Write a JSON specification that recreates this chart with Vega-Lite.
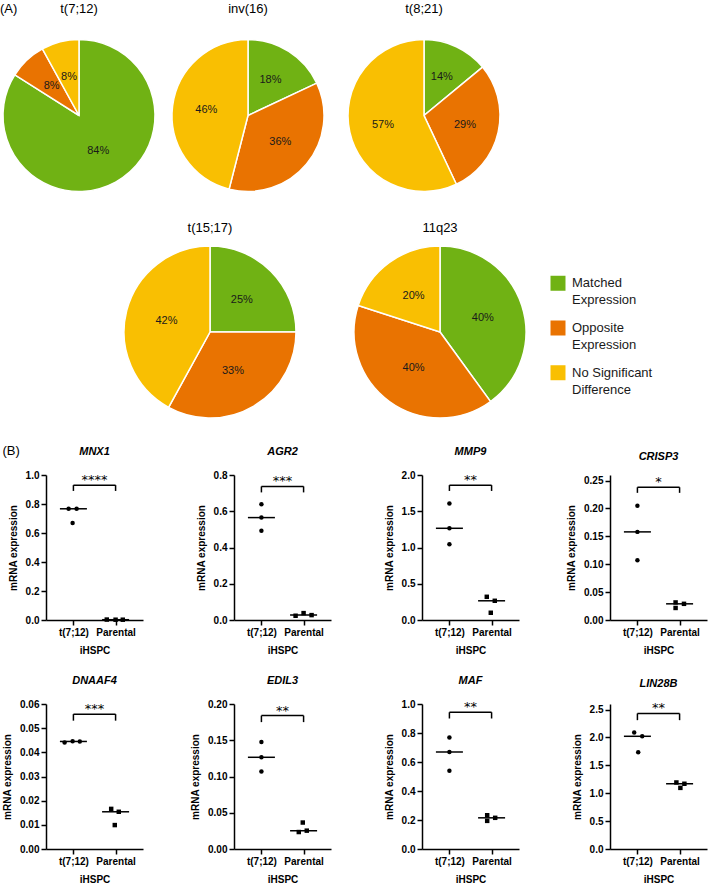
{
  "$schema": "https://vega.github.io/schema/vega-lite/v6.json",
  "background": "white",
  "padding": {"left": 0, "top": 3, "right": 3, "bottom": 3},
  "datasets": {
    "pies": [
      {"abn": "t(7;12)", "category": "Matched Expression", "k": 1, "pct": 0.84},
      {"abn": "t(7;12)", "category": "Opposite Expression", "k": 2, "pct": 0.08},
      {"abn": "t(7;12)", "category": "No Significant Difference", "k": 3, "pct": 0.08},
      {"abn": "inv(16)", "category": "Matched Expression", "k": 1, "pct": 0.18},
      {"abn": "inv(16)", "category": "Opposite Expression", "k": 2, "pct": 0.36},
      {"abn": "inv(16)", "category": "No Significant Difference", "k": 3, "pct": 0.46},
      {"abn": "t(8;21)", "category": "Matched Expression", "k": 1, "pct": 0.14},
      {"abn": "t(8;21)", "category": "Opposite Expression", "k": 2, "pct": 0.29},
      {"abn": "t(8;21)", "category": "No Significant Difference", "k": 3, "pct": 0.57},
      {"abn": "t(15;17)", "category": "Matched Expression", "k": 1, "pct": 0.25},
      {"abn": "t(15;17)", "category": "Opposite Expression", "k": 2, "pct": 0.33},
      {"abn": "t(15;17)", "category": "No Significant Difference", "k": 3, "pct": 0.42},
      {"abn": "11q23", "category": "Matched Expression", "k": 1, "pct": 0.40},
      {"abn": "11q23", "category": "Opposite Expression", "k": 2, "pct": 0.40},
      {"abn": "11q23", "category": "No Significant Difference", "k": 3, "pct": 0.20}
    ],
    "keys": [
      {"category": "Matched Expression", "label": "Matched\nExpression"},
      {"category": "Opposite Expression", "label": "Opposite\nExpression"},
      {"category": "No Significant Difference", "label": "No Significant\nDifference"}
    ],
    "expr": [
      {"gene": "MNX1", "group": "t(7;12)", "value": 0.767, "jit": -0.6},
      {"gene": "MNX1", "group": "t(7;12)", "value": 0.767, "jit": 0.4},
      {"gene": "MNX1", "group": "t(7;12)", "value": 0.669, "jit": -0.1},
      {"gene": "MNX1", "group": "Parental", "value": 0.003, "jit": -1.1},
      {"gene": "MNX1", "group": "Parental", "value": 0.002, "jit": 0},
      {"gene": "MNX1", "group": "Parental", "value": 0.002, "jit": 0.9},
      {"gene": "AGR2", "group": "t(7;12)", "value": 0.639, "jit": 0},
      {"gene": "AGR2", "group": "t(7;12)", "value": 0.565, "jit": 0},
      {"gene": "AGR2", "group": "t(7;12)", "value": 0.493, "jit": 0},
      {"gene": "AGR2", "group": "Parental", "value": 0.0235, "jit": -1.0},
      {"gene": "AGR2", "group": "Parental", "value": 0.038, "jit": 0},
      {"gene": "AGR2", "group": "Parental", "value": 0.027, "jit": 1.0},
      {"gene": "MMP9", "group": "t(7;12)", "value": 1.607, "jit": 0},
      {"gene": "MMP9", "group": "t(7;12)", "value": 1.265, "jit": 0},
      {"gene": "MMP9", "group": "t(7;12)", "value": 1.046, "jit": 0},
      {"gene": "MMP9", "group": "Parental", "value": 0.32, "jit": -0.6},
      {"gene": "MMP9", "group": "Parental", "value": 0.265, "jit": 0.4},
      {"gene": "MMP9", "group": "Parental", "value": 0.10, "jit": -0.1},
      {"gene": "CRISP3", "group": "t(7;12)", "value": 0.205, "jit": 0},
      {"gene": "CRISP3", "group": "t(7;12)", "value": 0.158, "jit": 0},
      {"gene": "CRISP3", "group": "t(7;12)", "value": 0.107, "jit": 0},
      {"gene": "CRISP3", "group": "Parental", "value": 0.0315, "jit": -0.5},
      {"gene": "CRISP3", "group": "Parental", "value": 0.0216, "jit": -0.5},
      {"gene": "CRISP3", "group": "Parental", "value": 0.029, "jit": 0.55},
      {"gene": "DNAAF4", "group": "t(7;12)", "value": 0.0441, "jit": -1.1},
      {"gene": "DNAAF4", "group": "t(7;12)", "value": 0.0446, "jit": -0.1},
      {"gene": "DNAAF4", "group": "t(7;12)", "value": 0.0445, "jit": 0.8},
      {"gene": "DNAAF4", "group": "Parental", "value": 0.0166, "jit": -0.55},
      {"gene": "DNAAF4", "group": "Parental", "value": 0.0154, "jit": 0.4},
      {"gene": "DNAAF4", "group": "Parental", "value": 0.0099, "jit": -0.1},
      {"gene": "EDIL3", "group": "t(7;12)", "value": 0.1475, "jit": 0},
      {"gene": "EDIL3", "group": "t(7;12)", "value": 0.1265, "jit": 0},
      {"gene": "EDIL3", "group": "t(7;12)", "value": 0.1068, "jit": 0},
      {"gene": "EDIL3", "group": "Parental", "value": 0.0365, "jit": -0.1},
      {"gene": "EDIL3", "group": "Parental", "value": 0.0234, "jit": -0.6},
      {"gene": "EDIL3", "group": "Parental", "value": 0.0253, "jit": 0.4},
      {"gene": "MAF", "group": "t(7;12)", "value": 0.769, "jit": 0},
      {"gene": "MAF", "group": "t(7;12)", "value": 0.669, "jit": 0},
      {"gene": "MAF", "group": "t(7;12)", "value": 0.539, "jit": 0},
      {"gene": "MAF", "group": "Parental", "value": 0.233, "jit": -0.55},
      {"gene": "MAF", "group": "Parental", "value": 0.194, "jit": -0.55},
      {"gene": "MAF", "group": "Parental", "value": 0.215, "jit": 0.45},
      {"gene": "LIN28B", "group": "t(7;12)", "value": 2.089, "jit": -0.4},
      {"gene": "LIN28B", "group": "t(7;12)", "value": 2.021, "jit": 0.6},
      {"gene": "LIN28B", "group": "t(7;12)", "value": 1.735, "jit": 0.1},
      {"gene": "LIN28B", "group": "Parental", "value": 1.193, "jit": -0.4},
      {"gene": "LIN28B", "group": "Parental", "value": 1.170, "jit": 0.6},
      {"gene": "LIN28B", "group": "Parental", "value": 1.096, "jit": 0.1}
    ],
    "sig": [
      {"gene": "MNX1", "stars": "****", "top": 0.93, "foot": 0.89},
      {"gene": "AGR2", "stars": "***", "top": 0.737, "foot": 0.704},
      {"gene": "MMP9", "stars": "**", "top": 1.86, "foot": 1.78},
      {"gene": "CRISP3", "stars": "*", "top": 0.238, "foot": 0.228},
      {"gene": "DNAAF4", "stars": "***", "top": 0.0558, "foot": 0.0531},
      {"gene": "EDIL3", "stars": "**", "top": 0.184, "foot": 0.175},
      {"gene": "MAF", "stars": "**", "top": 0.943, "foot": 0.90},
      {"gene": "LIN28B", "stars": "**", "top": 2.43, "foot": 2.31}
    ]
  },
  "vconcat": [
    {
      "title": {"text": "(A)", "anchor": "start", "fontSize": 13, "fontWeight": "normal", "offset": -13},
      "spacing": 15,
      "vconcat": [
        {
          "bounds": "flush",
          "spacing": 20,
          "hconcat": [
            {
              "title": {"text": "t(7;12)", "fontSize": 13, "fontWeight": "normal", "offset": 8},
              "width": 66, "height": 183,
              "data": {"name": "pies"},
              "transform": [{"filter": "datum.abn === 't(7;12)'"}],
              "encoding": {
                "theta": {"field": "pct", "type": "quantitative", "stack": true},
                "order": {"field": "k", "type": "quantitative"},
                "color": {"field": "category", "type": "nominal", "legend": null,
                  "scale": {"domain": ["Matched Expression", "Opposite Expression", "No Significant Difference"], "range": ["#70b214", "#e97301", "#f9bf02"]}}
              },
              "layer": [
                {"mark": {"type": "arc", "outerRadius": 76, "stroke": "white", "strokeWidth": 1.5}},
                {"mark": {"type": "text", "radius": 40, "fontSize": 11},
                 "encoding": {"text": {"field": "pct", "format": ".0%"}, "color": {"value": "#1a1a1a"}}}
              ]
            },
            {
              "title": {"text": "inv(16)", "fontSize": 13, "fontWeight": "normal", "offset": 8},
              "width": 232, "height": 183,
              "data": {"name": "pies"},
              "transform": [{"filter": "datum.abn === 'inv(16)'"}],
              "encoding": {
                "theta": {"field": "pct", "type": "quantitative", "stack": true},
                "order": {"field": "k", "type": "quantitative"},
                "color": {"field": "category", "type": "nominal", "legend": null,
                  "scale": {"domain": ["Matched Expression", "Opposite Expression", "No Significant Difference"], "range": ["#70b214", "#e97301", "#f9bf02"]}}
              },
              "layer": [
                {"mark": {"type": "arc", "outerRadius": 76, "stroke": "white", "strokeWidth": 1.5}},
                {"mark": {"type": "text", "radius": 42, "fontSize": 11},
                 "encoding": {"text": {"field": "pct", "format": ".0%"}, "color": {"value": "#1a1a1a"}}}
              ]
            },
            {
              "title": {"text": "t(8;21)", "fontSize": 13, "fontWeight": "normal", "offset": 8},
              "width": 80, "height": 183,
              "data": {"name": "pies"},
              "transform": [{"filter": "datum.abn === 't(8;21)'"}],
              "encoding": {
                "theta": {"field": "pct", "type": "quantitative", "stack": true},
                "order": {"field": "k", "type": "quantitative"},
                "color": {"field": "category", "type": "nominal", "legend": null,
                  "scale": {"domain": ["Matched Expression", "Opposite Expression", "No Significant Difference"], "range": ["#70b214", "#e97301", "#f9bf02"]}}
              },
              "layer": [
                {"mark": {"type": "arc", "outerRadius": 76, "stroke": "white", "strokeWidth": 1.5}},
                {"mark": {"type": "text", "radius": 42, "fontSize": 11},
                 "encoding": {"text": {"field": "pct", "format": ".0%"}, "color": {"value": "#1a1a1a"}}}
              ]
            }
          ]
        },
        {
          "bounds": "flush",
          "spacing": 10,
          "hconcat": [
            {
              "title": {"text": "t(15;17)", "fontSize": 13, "fontWeight": "normal", "offset": 8},
              "width": 328, "height": 178,
              "data": {"name": "pies"},
              "transform": [{"filter": "datum.abn === 't(15;17)'"}],
              "encoding": {
                "theta": {"field": "pct", "type": "quantitative", "stack": true},
                "order": {"field": "k", "type": "quantitative"},
                "color": {"field": "category", "type": "nominal", "legend": null,
                  "scale": {"domain": ["Matched Expression", "Opposite Expression", "No Significant Difference"], "range": ["#70b214", "#e97301", "#f9bf02"]}}
              },
              "layer": [
                {"mark": {"type": "arc", "outerRadius": 86, "stroke": "white", "strokeWidth": 1.5}},
                {"mark": {"type": "text", "radius": 45, "fontSize": 11},
                 "encoding": {"text": {"field": "pct", "format": ".0%"}, "color": {"value": "#1a1a1a"}}}
              ]
            },
            {
              "title": {"text": "11q23", "fontSize": 13, "fontWeight": "normal", "offset": 8},
              "width": 112, "height": 178,
              "data": {"name": "pies"},
              "transform": [{"filter": "datum.abn === '11q23'"}],
              "encoding": {
                "theta": {"field": "pct", "type": "quantitative", "stack": true},
                "order": {"field": "k", "type": "quantitative"},
                "color": {"field": "category", "type": "nominal", "legend": null,
                  "scale": {"domain": ["Matched Expression", "Opposite Expression", "No Significant Difference"], "range": ["#70b214", "#e97301", "#f9bf02"]}}
              },
              "layer": [
                {"mark": {"type": "arc", "outerRadius": 86, "stroke": "white", "strokeWidth": 1.5}},
                {"mark": {"type": "text", "radius": 45, "fontSize": 11},
                 "encoding": {"text": {"field": "pct", "format": ".0%"}, "color": {"value": "#1a1a1a"}}}
              ]
            },
            {
              "width": 104, "height": 170,
              "data": {"name": "keys"},
              "encoding": {
                "y": {"field": "category", "type": "nominal", "axis": null,
                  "scale": {"type": "point", "padding": 0.9, "domain": ["Matched Expression", "Opposite Expression", "No Significant Difference"]}}
              },
              "layer": [
                {"mark": {"type": "point", "shape": "square", "filled": true, "size": 225, "opacity": 1, "strokeWidth": 0},
                 "encoding": {"color": {"field": "category", "type": "nominal", "legend": null,
                   "scale": {"domain": ["Matched Expression", "Opposite Expression", "No Significant Difference"], "range": ["#70b214", "#e97301", "#f9bf02"]}}}},
                {"mark": {"type": "text", "align": "left", "baseline": "middle", "dx": 14, "fontSize": 13, "lineBreak": "\n", "lineHeight": 17, "color": "#1a1a1a"},
                 "encoding": {"text": {"field": "label"}}}
              ]
            }
          ]
        }
      ]
    },
    {
      "title": {"text": "(B)", "anchor": "start", "fontSize": 13, "fontWeight": "normal", "offset": -12},
      "spacing": 20,
      "vconcat": [
        {
          "bounds": "flush",
          "spacing": 91,
          "resolve": {"scale": {"x": "independent", "y": "independent"}},
          "hconcat": [
            {
              "title": {"text": "MNX1", "fontSize": 11, "fontWeight": "bold", "fontStyle": "italic", "offset": 13},
              "width": 97, "height": 145,
              "layer": [
                {"data": {"name": "expr"}, "transform": [{"filter": "datum.gene === 'MNX1'"}],
                 "mark": {"type": "point", "filled": true, "size": 20, "opacity": 1, "color": "black"},
                 "encoding": {
                   "x": {"field": "group", "type": "nominal", "sort": ["t(7;12)", "Parental"], "scale": {"type": "point", "padding": 0.65, "domain": ["t(7;12)", "Parental"]}, "axis": {"title": "iHSPC"}},
                   "xOffset": {"field": "jit", "type": "quantitative", "scale": {"domain": [-1, 1], "range": [-8, 8]}},
                   "y": {"field": "value", "type": "quantitative", "scale": {"domain": [0, 1]}, "axis": {"title": "mRNA expression", "tickCount": 20, "values": [0, 0.2, 0.4, 0.6, 0.8, 1], "format": ".1f"}},
                   "shape": {"field": "group", "type": "nominal", "legend": null, "scale": {"domain": ["t(7;12)", "Parental"], "range": ["circle", "square"]}}
                 }},
                {"data": {"name": "expr"}, "transform": [{"filter": "datum.gene === 'MNX1'"}],
                 "mark": {"type": "tick", "color": "black", "size": 27, "thickness": 1.5},
                 "encoding": {"x": {"field": "group", "type": "nominal"}, "y": {"field": "value", "aggregate": "median", "type": "quantitative"}}},
                {"data": {"name": "sig"}, "transform": [{"filter": "datum.gene === 'MNX1'"}],
                 "mark": {"type": "rule", "color": "black", "strokeWidth": 1.5},
                 "encoding": {"x": {"datum": "t(7;12)", "type": "nominal"}, "x2": {"datum": "Parental"}, "y": {"field": "top", "type": "quantitative"}}},
                {"data": {"name": "sig"}, "transform": [{"filter": "datum.gene === 'MNX1'"}],
                 "mark": {"type": "rule", "color": "black", "strokeWidth": 1.5},
                 "encoding": {"x": {"datum": "t(7;12)", "type": "nominal"}, "y": {"field": "top", "type": "quantitative"}, "y2": {"field": "foot"}}},
                {"data": {"name": "sig"}, "transform": [{"filter": "datum.gene === 'MNX1'"}],
                 "mark": {"type": "rule", "color": "black", "strokeWidth": 1.5},
                 "encoding": {"x": {"datum": "Parental", "type": "nominal"}, "y": {"field": "top", "type": "quantitative"}, "y2": {"field": "foot"}}},
                {"data": {"name": "sig"}, "transform": [{"filter": "datum.gene === 'MNX1'"}],
                 "mark": {"type": "text", "dx": 21, "dy": -1, "baseline": "alphabetic", "fontSize": 13, "font": "DejaVu Sans", "color": "black"},
                 "encoding": {"x": {"datum": "t(7;12)", "type": "nominal"}, "y": {"field": "top", "type": "quantitative"}, "text": {"field": "stars"}}}
              ]
            },
            {
              "title": {"text": "AGR2", "fontSize": 11, "fontWeight": "bold", "fontStyle": "italic", "offset": 13},
              "width": 97, "height": 145,
              "layer": [
                {"data": {"name": "expr"}, "transform": [{"filter": "datum.gene === 'AGR2'"}],
                 "mark": {"type": "point", "filled": true, "size": 20, "opacity": 1, "color": "black"},
                 "encoding": {
                   "x": {"field": "group", "type": "nominal", "sort": ["t(7;12)", "Parental"], "scale": {"type": "point", "padding": 0.65, "domain": ["t(7;12)", "Parental"]}, "axis": {"title": "iHSPC"}},
                   "xOffset": {"field": "jit", "type": "quantitative", "scale": {"domain": [-1, 1], "range": [-8, 8]}},
                   "y": {"field": "value", "type": "quantitative", "scale": {"domain": [0, 0.8]}, "axis": {"title": "mRNA expression", "tickCount": 20, "values": [0, 0.2, 0.4, 0.6, 0.8], "format": ".1f"}},
                   "shape": {"field": "group", "type": "nominal", "legend": null, "scale": {"domain": ["t(7;12)", "Parental"], "range": ["circle", "square"]}}
                 }},
                {"data": {"name": "expr"}, "transform": [{"filter": "datum.gene === 'AGR2'"}],
                 "mark": {"type": "tick", "color": "black", "size": 27, "thickness": 1.5},
                 "encoding": {"x": {"field": "group", "type": "nominal"}, "y": {"field": "value", "aggregate": "median", "type": "quantitative"}}},
                {"data": {"name": "sig"}, "transform": [{"filter": "datum.gene === 'AGR2'"}],
                 "mark": {"type": "rule", "color": "black", "strokeWidth": 1.5},
                 "encoding": {"x": {"datum": "t(7;12)", "type": "nominal"}, "x2": {"datum": "Parental"}, "y": {"field": "top", "type": "quantitative"}}},
                {"data": {"name": "sig"}, "transform": [{"filter": "datum.gene === 'AGR2'"}],
                 "mark": {"type": "rule", "color": "black", "strokeWidth": 1.5},
                 "encoding": {"x": {"datum": "t(7;12)", "type": "nominal"}, "y": {"field": "top", "type": "quantitative"}, "y2": {"field": "foot"}}},
                {"data": {"name": "sig"}, "transform": [{"filter": "datum.gene === 'AGR2'"}],
                 "mark": {"type": "rule", "color": "black", "strokeWidth": 1.5},
                 "encoding": {"x": {"datum": "Parental", "type": "nominal"}, "y": {"field": "top", "type": "quantitative"}, "y2": {"field": "foot"}}},
                {"data": {"name": "sig"}, "transform": [{"filter": "datum.gene === 'AGR2'"}],
                 "mark": {"type": "text", "dx": 21, "dy": -1, "baseline": "alphabetic", "fontSize": 13, "font": "DejaVu Sans", "color": "black"},
                 "encoding": {"x": {"datum": "t(7;12)", "type": "nominal"}, "y": {"field": "top", "type": "quantitative"}, "text": {"field": "stars"}}}
              ]
            },
            {
              "title": {"text": "MMP9", "fontSize": 11, "fontWeight": "bold", "fontStyle": "italic", "offset": 13},
              "width": 97, "height": 145,
              "layer": [
                {"data": {"name": "expr"}, "transform": [{"filter": "datum.gene === 'MMP9'"}],
                 "mark": {"type": "point", "filled": true, "size": 20, "opacity": 1, "color": "black"},
                 "encoding": {
                   "x": {"field": "group", "type": "nominal", "sort": ["t(7;12)", "Parental"], "scale": {"type": "point", "padding": 0.65, "domain": ["t(7;12)", "Parental"]}, "axis": {"title": "iHSPC"}},
                   "xOffset": {"field": "jit", "type": "quantitative", "scale": {"domain": [-1, 1], "range": [-8, 8]}},
                   "y": {"field": "value", "type": "quantitative", "scale": {"domain": [0, 2]}, "axis": {"title": "mRNA expression", "tickCount": 20, "values": [0, 0.5, 1, 1.5, 2], "format": ".1f"}},
                   "shape": {"field": "group", "type": "nominal", "legend": null, "scale": {"domain": ["t(7;12)", "Parental"], "range": ["circle", "square"]}}
                 }},
                {"data": {"name": "expr"}, "transform": [{"filter": "datum.gene === 'MMP9'"}],
                 "mark": {"type": "tick", "color": "black", "size": 27, "thickness": 1.5},
                 "encoding": {"x": {"field": "group", "type": "nominal"}, "y": {"field": "value", "aggregate": "median", "type": "quantitative"}}},
                {"data": {"name": "sig"}, "transform": [{"filter": "datum.gene === 'MMP9'"}],
                 "mark": {"type": "rule", "color": "black", "strokeWidth": 1.5},
                 "encoding": {"x": {"datum": "t(7;12)", "type": "nominal"}, "x2": {"datum": "Parental"}, "y": {"field": "top", "type": "quantitative"}}},
                {"data": {"name": "sig"}, "transform": [{"filter": "datum.gene === 'MMP9'"}],
                 "mark": {"type": "rule", "color": "black", "strokeWidth": 1.5},
                 "encoding": {"x": {"datum": "t(7;12)", "type": "nominal"}, "y": {"field": "top", "type": "quantitative"}, "y2": {"field": "foot"}}},
                {"data": {"name": "sig"}, "transform": [{"filter": "datum.gene === 'MMP9'"}],
                 "mark": {"type": "rule", "color": "black", "strokeWidth": 1.5},
                 "encoding": {"x": {"datum": "Parental", "type": "nominal"}, "y": {"field": "top", "type": "quantitative"}, "y2": {"field": "foot"}}},
                {"data": {"name": "sig"}, "transform": [{"filter": "datum.gene === 'MMP9'"}],
                 "mark": {"type": "text", "dx": 21, "dy": -1, "baseline": "alphabetic", "fontSize": 13, "font": "DejaVu Sans", "color": "black"},
                 "encoding": {"x": {"datum": "t(7;12)", "type": "nominal"}, "y": {"field": "top", "type": "quantitative"}, "text": {"field": "stars"}}}
              ]
            },
            {
              "title": {"text": "CRISP3", "fontSize": 11, "fontWeight": "bold", "fontStyle": "italic", "offset": 13},
              "width": 97, "height": 145,
              "layer": [
                {"data": {"name": "expr"}, "transform": [{"filter": "datum.gene === 'CRISP3'"}],
                 "mark": {"type": "point", "filled": true, "size": 20, "opacity": 1, "color": "black"},
                 "encoding": {
                   "x": {"field": "group", "type": "nominal", "sort": ["t(7;12)", "Parental"], "scale": {"type": "point", "padding": 0.65, "domain": ["t(7;12)", "Parental"]}, "axis": {"title": "iHSPC"}},
                   "xOffset": {"field": "jit", "type": "quantitative", "scale": {"domain": [-1, 1], "range": [-8, 8]}},
                   "y": {"field": "value", "type": "quantitative", "scale": {"domain": [0, 0.25]}, "axis": {"title": "mRNA expression", "tickCount": 20, "values": [0, 0.05, 0.1, 0.15, 0.2, 0.25], "format": ".2f"}},
                   "shape": {"field": "group", "type": "nominal", "legend": null, "scale": {"domain": ["t(7;12)", "Parental"], "range": ["circle", "square"]}}
                 }},
                {"data": {"name": "expr"}, "transform": [{"filter": "datum.gene === 'CRISP3'"}],
                 "mark": {"type": "tick", "color": "black", "size": 27, "thickness": 1.5},
                 "encoding": {"x": {"field": "group", "type": "nominal"}, "y": {"field": "value", "aggregate": "median", "type": "quantitative"}}},
                {"data": {"name": "sig"}, "transform": [{"filter": "datum.gene === 'CRISP3'"}],
                 "mark": {"type": "rule", "color": "black", "strokeWidth": 1.5},
                 "encoding": {"x": {"datum": "t(7;12)", "type": "nominal"}, "x2": {"datum": "Parental"}, "y": {"field": "top", "type": "quantitative"}}},
                {"data": {"name": "sig"}, "transform": [{"filter": "datum.gene === 'CRISP3'"}],
                 "mark": {"type": "rule", "color": "black", "strokeWidth": 1.5},
                 "encoding": {"x": {"datum": "t(7;12)", "type": "nominal"}, "y": {"field": "top", "type": "quantitative"}, "y2": {"field": "foot"}}},
                {"data": {"name": "sig"}, "transform": [{"filter": "datum.gene === 'CRISP3'"}],
                 "mark": {"type": "rule", "color": "black", "strokeWidth": 1.5},
                 "encoding": {"x": {"datum": "Parental", "type": "nominal"}, "y": {"field": "top", "type": "quantitative"}, "y2": {"field": "foot"}}},
                {"data": {"name": "sig"}, "transform": [{"filter": "datum.gene === 'CRISP3'"}],
                 "mark": {"type": "text", "dx": 21, "dy": -1, "baseline": "alphabetic", "fontSize": 13, "font": "DejaVu Sans", "color": "black"},
                 "encoding": {"x": {"datum": "t(7;12)", "type": "nominal"}, "y": {"field": "top", "type": "quantitative"}, "text": {"field": "stars"}}}
              ]
            }
          ]
        },
        {
          "bounds": "flush",
          "spacing": 91,
          "resolve": {"scale": {"x": "independent", "y": "independent"}},
          "hconcat": [
            {
              "title": {"text": "DNAAF4", "fontSize": 11, "fontWeight": "bold", "fontStyle": "italic", "offset": 13},
              "width": 97, "height": 145,
              "layer": [
                {"data": {"name": "expr"}, "transform": [{"filter": "datum.gene === 'DNAAF4'"}],
                 "mark": {"type": "point", "filled": true, "size": 20, "opacity": 1, "color": "black"},
                 "encoding": {
                   "x": {"field": "group", "type": "nominal", "sort": ["t(7;12)", "Parental"], "scale": {"type": "point", "padding": 0.65, "domain": ["t(7;12)", "Parental"]}, "axis": {"title": "iHSPC"}},
                   "xOffset": {"field": "jit", "type": "quantitative", "scale": {"domain": [-1, 1], "range": [-8, 8]}},
                   "y": {"field": "value", "type": "quantitative", "scale": {"domain": [0, 0.06]}, "axis": {"title": "mRNA expression", "tickCount": 20, "values": [0, 0.01, 0.02, 0.03, 0.04, 0.05, 0.06], "format": ".2f"}},
                   "shape": {"field": "group", "type": "nominal", "legend": null, "scale": {"domain": ["t(7;12)", "Parental"], "range": ["circle", "square"]}}
                 }},
                {"data": {"name": "expr"}, "transform": [{"filter": "datum.gene === 'DNAAF4'"}],
                 "mark": {"type": "tick", "color": "black", "size": 27, "thickness": 1.5},
                 "encoding": {"x": {"field": "group", "type": "nominal"}, "y": {"field": "value", "aggregate": "median", "type": "quantitative"}}},
                {"data": {"name": "sig"}, "transform": [{"filter": "datum.gene === 'DNAAF4'"}],
                 "mark": {"type": "rule", "color": "black", "strokeWidth": 1.5},
                 "encoding": {"x": {"datum": "t(7;12)", "type": "nominal"}, "x2": {"datum": "Parental"}, "y": {"field": "top", "type": "quantitative"}}},
                {"data": {"name": "sig"}, "transform": [{"filter": "datum.gene === 'DNAAF4'"}],
                 "mark": {"type": "rule", "color": "black", "strokeWidth": 1.5},
                 "encoding": {"x": {"datum": "t(7;12)", "type": "nominal"}, "y": {"field": "top", "type": "quantitative"}, "y2": {"field": "foot"}}},
                {"data": {"name": "sig"}, "transform": [{"filter": "datum.gene === 'DNAAF4'"}],
                 "mark": {"type": "rule", "color": "black", "strokeWidth": 1.5},
                 "encoding": {"x": {"datum": "Parental", "type": "nominal"}, "y": {"field": "top", "type": "quantitative"}, "y2": {"field": "foot"}}},
                {"data": {"name": "sig"}, "transform": [{"filter": "datum.gene === 'DNAAF4'"}],
                 "mark": {"type": "text", "dx": 21, "dy": -1, "baseline": "alphabetic", "fontSize": 13, "font": "DejaVu Sans", "color": "black"},
                 "encoding": {"x": {"datum": "t(7;12)", "type": "nominal"}, "y": {"field": "top", "type": "quantitative"}, "text": {"field": "stars"}}}
              ]
            },
            {
              "title": {"text": "EDIL3", "fontSize": 11, "fontWeight": "bold", "fontStyle": "italic", "offset": 13},
              "width": 97, "height": 145,
              "layer": [
                {"data": {"name": "expr"}, "transform": [{"filter": "datum.gene === 'EDIL3'"}],
                 "mark": {"type": "point", "filled": true, "size": 20, "opacity": 1, "color": "black"},
                 "encoding": {
                   "x": {"field": "group", "type": "nominal", "sort": ["t(7;12)", "Parental"], "scale": {"type": "point", "padding": 0.65, "domain": ["t(7;12)", "Parental"]}, "axis": {"title": "iHSPC"}},
                   "xOffset": {"field": "jit", "type": "quantitative", "scale": {"domain": [-1, 1], "range": [-8, 8]}},
                   "y": {"field": "value", "type": "quantitative", "scale": {"domain": [0, 0.2]}, "axis": {"title": "mRNA expression", "tickCount": 20, "values": [0, 0.05, 0.1, 0.15, 0.2], "format": ".2f"}},
                   "shape": {"field": "group", "type": "nominal", "legend": null, "scale": {"domain": ["t(7;12)", "Parental"], "range": ["circle", "square"]}}
                 }},
                {"data": {"name": "expr"}, "transform": [{"filter": "datum.gene === 'EDIL3'"}],
                 "mark": {"type": "tick", "color": "black", "size": 27, "thickness": 1.5},
                 "encoding": {"x": {"field": "group", "type": "nominal"}, "y": {"field": "value", "aggregate": "median", "type": "quantitative"}}},
                {"data": {"name": "sig"}, "transform": [{"filter": "datum.gene === 'EDIL3'"}],
                 "mark": {"type": "rule", "color": "black", "strokeWidth": 1.5},
                 "encoding": {"x": {"datum": "t(7;12)", "type": "nominal"}, "x2": {"datum": "Parental"}, "y": {"field": "top", "type": "quantitative"}}},
                {"data": {"name": "sig"}, "transform": [{"filter": "datum.gene === 'EDIL3'"}],
                 "mark": {"type": "rule", "color": "black", "strokeWidth": 1.5},
                 "encoding": {"x": {"datum": "t(7;12)", "type": "nominal"}, "y": {"field": "top", "type": "quantitative"}, "y2": {"field": "foot"}}},
                {"data": {"name": "sig"}, "transform": [{"filter": "datum.gene === 'EDIL3'"}],
                 "mark": {"type": "rule", "color": "black", "strokeWidth": 1.5},
                 "encoding": {"x": {"datum": "Parental", "type": "nominal"}, "y": {"field": "top", "type": "quantitative"}, "y2": {"field": "foot"}}},
                {"data": {"name": "sig"}, "transform": [{"filter": "datum.gene === 'EDIL3'"}],
                 "mark": {"type": "text", "dx": 21, "dy": -1, "baseline": "alphabetic", "fontSize": 13, "font": "DejaVu Sans", "color": "black"},
                 "encoding": {"x": {"datum": "t(7;12)", "type": "nominal"}, "y": {"field": "top", "type": "quantitative"}, "text": {"field": "stars"}}}
              ]
            },
            {
              "title": {"text": "MAF", "fontSize": 11, "fontWeight": "bold", "fontStyle": "italic", "offset": 13},
              "width": 97, "height": 145,
              "layer": [
                {"data": {"name": "expr"}, "transform": [{"filter": "datum.gene === 'MAF'"}],
                 "mark": {"type": "point", "filled": true, "size": 20, "opacity": 1, "color": "black"},
                 "encoding": {
                   "x": {"field": "group", "type": "nominal", "sort": ["t(7;12)", "Parental"], "scale": {"type": "point", "padding": 0.65, "domain": ["t(7;12)", "Parental"]}, "axis": {"title": "iHSPC"}},
                   "xOffset": {"field": "jit", "type": "quantitative", "scale": {"domain": [-1, 1], "range": [-8, 8]}},
                   "y": {"field": "value", "type": "quantitative", "scale": {"domain": [0, 1]}, "axis": {"title": "mRNA expression", "tickCount": 20, "values": [0, 0.2, 0.4, 0.6, 0.8, 1], "format": ".1f"}},
                   "shape": {"field": "group", "type": "nominal", "legend": null, "scale": {"domain": ["t(7;12)", "Parental"], "range": ["circle", "square"]}}
                 }},
                {"data": {"name": "expr"}, "transform": [{"filter": "datum.gene === 'MAF'"}],
                 "mark": {"type": "tick", "color": "black", "size": 27, "thickness": 1.5},
                 "encoding": {"x": {"field": "group", "type": "nominal"}, "y": {"field": "value", "aggregate": "median", "type": "quantitative"}}},
                {"data": {"name": "sig"}, "transform": [{"filter": "datum.gene === 'MAF'"}],
                 "mark": {"type": "rule", "color": "black", "strokeWidth": 1.5},
                 "encoding": {"x": {"datum": "t(7;12)", "type": "nominal"}, "x2": {"datum": "Parental"}, "y": {"field": "top", "type": "quantitative"}}},
                {"data": {"name": "sig"}, "transform": [{"filter": "datum.gene === 'MAF'"}],
                 "mark": {"type": "rule", "color": "black", "strokeWidth": 1.5},
                 "encoding": {"x": {"datum": "t(7;12)", "type": "nominal"}, "y": {"field": "top", "type": "quantitative"}, "y2": {"field": "foot"}}},
                {"data": {"name": "sig"}, "transform": [{"filter": "datum.gene === 'MAF'"}],
                 "mark": {"type": "rule", "color": "black", "strokeWidth": 1.5},
                 "encoding": {"x": {"datum": "Parental", "type": "nominal"}, "y": {"field": "top", "type": "quantitative"}, "y2": {"field": "foot"}}},
                {"data": {"name": "sig"}, "transform": [{"filter": "datum.gene === 'MAF'"}],
                 "mark": {"type": "text", "dx": 21, "dy": -1, "baseline": "alphabetic", "fontSize": 13, "font": "DejaVu Sans", "color": "black"},
                 "encoding": {"x": {"datum": "t(7;12)", "type": "nominal"}, "y": {"field": "top", "type": "quantitative"}, "text": {"field": "stars"}}}
              ]
            },
            {
              "title": {"text": "LIN28B", "fontSize": 11, "fontWeight": "bold", "fontStyle": "italic", "offset": 13},
              "width": 97, "height": 145,
              "layer": [
                {"data": {"name": "expr"}, "transform": [{"filter": "datum.gene === 'LIN28B'"}],
                 "mark": {"type": "point", "filled": true, "size": 20, "opacity": 1, "color": "black"},
                 "encoding": {
                   "x": {"field": "group", "type": "nominal", "sort": ["t(7;12)", "Parental"], "scale": {"type": "point", "padding": 0.65, "domain": ["t(7;12)", "Parental"]}, "axis": {"title": "iHSPC"}},
                   "xOffset": {"field": "jit", "type": "quantitative", "scale": {"domain": [-1, 1], "range": [-8, 8]}},
                   "y": {"field": "value", "type": "quantitative", "scale": {"domain": [0, 2.5]}, "axis": {"title": "mRNA expression", "tickCount": 20, "values": [0, 0.5, 1, 1.5, 2, 2.5], "format": ".1f"}},
                   "shape": {"field": "group", "type": "nominal", "legend": null, "scale": {"domain": ["t(7;12)", "Parental"], "range": ["circle", "square"]}}
                 }},
                {"data": {"name": "expr"}, "transform": [{"filter": "datum.gene === 'LIN28B'"}],
                 "mark": {"type": "tick", "color": "black", "size": 27, "thickness": 1.5},
                 "encoding": {"x": {"field": "group", "type": "nominal"}, "y": {"field": "value", "aggregate": "median", "type": "quantitative"}}},
                {"data": {"name": "sig"}, "transform": [{"filter": "datum.gene === 'LIN28B'"}],
                 "mark": {"type": "rule", "color": "black", "strokeWidth": 1.5},
                 "encoding": {"x": {"datum": "t(7;12)", "type": "nominal"}, "x2": {"datum": "Parental"}, "y": {"field": "top", "type": "quantitative"}}},
                {"data": {"name": "sig"}, "transform": [{"filter": "datum.gene === 'LIN28B'"}],
                 "mark": {"type": "rule", "color": "black", "strokeWidth": 1.5},
                 "encoding": {"x": {"datum": "t(7;12)", "type": "nominal"}, "y": {"field": "top", "type": "quantitative"}, "y2": {"field": "foot"}}},
                {"data": {"name": "sig"}, "transform": [{"filter": "datum.gene === 'LIN28B'"}],
                 "mark": {"type": "rule", "color": "black", "strokeWidth": 1.5},
                 "encoding": {"x": {"datum": "Parental", "type": "nominal"}, "y": {"field": "top", "type": "quantitative"}, "y2": {"field": "foot"}}},
                {"data": {"name": "sig"}, "transform": [{"filter": "datum.gene === 'LIN28B'"}],
                 "mark": {"type": "text", "dx": 21, "dy": -1, "baseline": "alphabetic", "fontSize": 13, "font": "DejaVu Sans", "color": "black"},
                 "encoding": {"x": {"datum": "t(7;12)", "type": "nominal"}, "y": {"field": "top", "type": "quantitative"}, "text": {"field": "stars"}}}
              ]
            }
          ]
        }
      ]
    }
  ],
  "spacing": 24,
  "config": {
    "view": {"stroke": null},
    "font": "Liberation Sans",
    "title": {"font": "Liberation Sans", "color": "black"},
    "text": {"font": "Liberation Sans"},
    "axis": {
      "grid": false,
      "labelOverlap": false,
      "domainColor": "black",
      "domainWidth": 1.5,
      "tickColor": "black",
      "tickWidth": 1.5,
      "tickSize": 5,
      "labelFont": "Liberation Sans",
      "labelFontSize": 10,
      "labelFontWeight": "bold",
      "labelColor": "black",
      "titleFont": "Liberation Sans",
      "titleFontSize": 10,
      "titleFontWeight": "bold",
      "titleColor": "black"
    },
    "axisX": {"labelAngle": 0, "labelPadding": 2, "titlePadding": 8},
    "axisY": {"labelPadding": 2, "titlePadding": 7}
  }
}
